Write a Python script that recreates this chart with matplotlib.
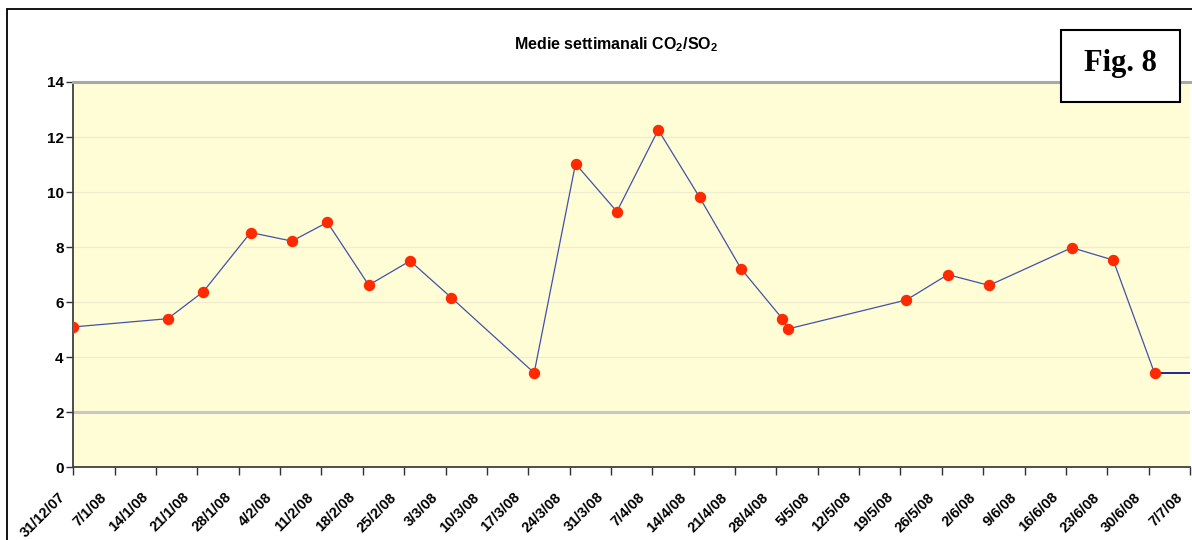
import numpy as np
import pandas as pd
import matplotlib
matplotlib.use('Agg')
import matplotlib.pyplot as plt
import matplotlib.dates as mdates
from matplotlib.patches import Rectangle
from matplotlib.transforms import ScaledTranslation

plt.rcParams['font.family'] = ['Liberation Sans', 'DejaVu Sans']
plt.rcParams['mathtext.fontset'] = 'custom'
plt.rcParams['mathtext.rm'] = 'Liberation Sans'
plt.rcParams['mathtext.bf'] = 'Liberation Sans:bold'

# Dati: medie settimanali CO2/SO2
date = ['2007-12-31', '2008-01-16', '2008-01-22', '2008-01-30', '2008-02-06',
        '2008-02-12', '2008-02-19', '2008-02-26', '2008-03-04', '2008-03-18',
        '2008-03-25', '2008-04-01', '2008-04-08', '2008-04-15', '2008-04-22',
        '2008-04-29', '2008-04-30', '2008-05-20', '2008-05-27', '2008-06-03',
        '2008-06-17', '2008-06-24', '2008-07-01']
rapporto = [5.10, 5.40, 6.38, 8.53, 8.22, 8.90, 6.62, 7.50, 6.16, 3.43,
            11.03, 9.29, 12.26, 9.81, 7.22, 5.40, 5.03, 6.08, 7.00, 6.61,
            7.98, 7.53, 3.42]

# Etichette asse x (settimanali)
inizio = '2007-12-31'
fine = '2008-07-07'
tick_date = pd.date_range(inizio, fine, freq='7D')
tick_lab = [f"{d.day}/{d.month}/{d:%y}" for d in tick_date]

x = mdates.date2num(pd.to_datetime(date))
xt = mdates.date2num(tick_date)

W, H = 1192, 540
fig = plt.figure(figsize=(W / 100, H / 100), dpi=100)

# bordo esterno dell'area del grafico
fig.patches.append(Rectangle((7 / W, -0.1), 1.2, 1 - 9 / H + 0.1, transform=fig.transFigure,
                             fill=False, edgecolor='black', linewidth=1.3, zorder=0))

ax = fig.add_axes([73.3 / W, 72.7 / H, (1190 - 73.3) / W, (458 - 72.7) / H])
ax.set_facecolor('#FFFDD5')

# griglia
for g in [4, 6, 8, 10, 12]:
    ax.axhline(g, color='#EFECCF', linewidth=0.9, zorder=1)
ax.axhline(2, color='#C8C8C8', linewidth=2.2, zorder=1)

ax.plot(x, rapporto, color='#4252A8', linewidth=0.9, zorder=3)
ax.plot(x, rapporto, linestyle='none', marker='o', markersize=7.2,
        markerfacecolor='#FF2A00', markeredgecolor='#FF2A00', zorder=4)
# ultimo valore prolungato fino al bordo
ax.plot([x[-1], xt[-1]], [rapporto[-1], rapporto[-1]], color='#000080',
        linewidth=1.2, zorder=2)

ax.set_xlim(xt[0], xt[-1])
ax.set_ylim(0, 14)
ax.set_yticks(np.arange(0, 15, 2))
ax.set_xticks(xt)
ax.set_xticklabels(tick_lab, rotation=45, ha='right', va='center',
                   rotation_mode='anchor', fontsize=10.5, fontweight='bold')
ax.set_yticklabels([str(v) for v in range(0, 15, 2)], fontsize=11, fontweight='bold')
ax.tick_params(axis='x', direction='out', length=6, width=1, color='#303030', pad=14)
ax.tick_params(axis='y', direction='out', length=5, width=1, color='#303030', pad=2)

off = ScaledTranslation(-10 / 100, 0, fig.dpi_scale_trans)
for lab in ax.get_xticklabels():
    lab.set_transform(lab.get_transform() + off)

ax.spines['right'].set_visible(False)
ax.spines['top'].set_color('#A8A8A8')
ax.spines['top'].set_linewidth(2.2)
ax.spines['left'].set_color('#404040')
ax.spines['left'].set_linewidth(1.3)
ax.spines['bottom'].set_color('#404040')
ax.spines['bottom'].set_linewidth(1.3)

fig.text(616.5 / W, 1 - 45 / H, r'Medie settimanali CO$_\mathbf{2}$/SO$_\mathbf{2}$',
         ha='center', va='center', fontsize=11.5, fontweight='bold')

# riquadro "Fig. 8"
fig.patches.append(Rectangle((1061 / W, 1 - 102 / H), (1180 - 1061) / W, 72 / H,
                             transform=fig.transFigure, facecolor='white',
                             edgecolor='black', linewidth=1.5, zorder=5))
fig.text(1120.5 / W, 1 - 64 / H, 'Fig. 8', ha='center', va='center', fontsize=22,
         fontweight='bold', family='Liberation Serif', zorder=6)

fig.savefig('out.png', dpi=100)
